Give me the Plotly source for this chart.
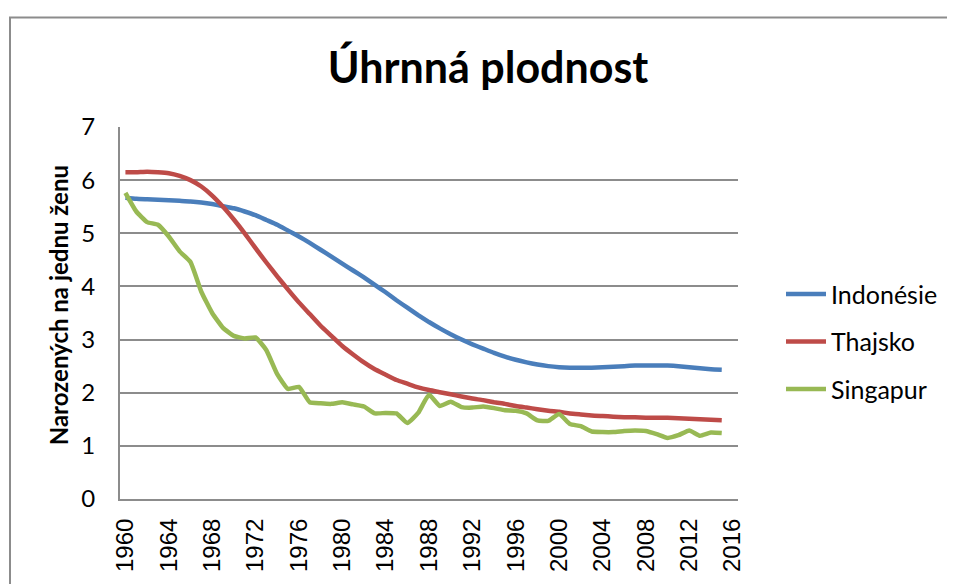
import plotly.graph_objects as go

years = list(range(1960, 2016))

indonesie = [5.67, 5.65, 5.64, 5.63, 5.62, 5.61, 5.60, 5.58, 5.55, 5.51,
             5.47, 5.41, 5.34, 5.25, 5.16, 5.05, 4.94, 4.82, 4.69, 4.56,
             4.43, 4.30, 4.17, 4.03, 3.89, 3.74, 3.60, 3.46, 3.33, 3.21,
             3.10, 3.00, 2.91, 2.83, 2.75, 2.68, 2.62, 2.57, 2.53, 2.50,
             2.48, 2.47, 2.47, 2.47, 2.48, 2.49, 2.50, 2.51, 2.51, 2.51,
             2.51, 2.50, 2.48, 2.46, 2.44, 2.43]

thajsko = [6.15, 6.15, 6.16, 6.15, 6.13, 6.08, 6.00, 5.88, 5.71, 5.50,
           5.26, 5.00, 4.72, 4.45, 4.19, 3.94, 3.70, 3.48, 3.26, 3.07,
           2.88, 2.72, 2.57, 2.44, 2.34, 2.24, 2.17, 2.10, 2.05, 2.01,
           1.97, 1.93, 1.89, 1.86, 1.82, 1.79, 1.75, 1.72, 1.69, 1.66,
           1.64, 1.61, 1.59, 1.57, 1.56, 1.55, 1.54, 1.54, 1.53, 1.53,
           1.53, 1.52, 1.51, 1.50, 1.49, 1.48]

singapur = [5.76, 5.41, 5.21, 5.16, 4.94, 4.66, 4.46, 3.90, 3.50, 3.22,
            3.07, 3.02, 3.04, 2.80, 2.35, 2.07, 2.11, 1.82, 1.80, 1.79,
            1.82, 1.78, 1.74, 1.61, 1.62, 1.61, 1.43, 1.62, 1.96, 1.75,
            1.83, 1.73, 1.72, 1.74, 1.71, 1.67, 1.66, 1.61, 1.48, 1.47,
            1.60, 1.41, 1.37, 1.27, 1.26, 1.26, 1.28, 1.29, 1.28, 1.22,
            1.15, 1.20, 1.29, 1.19, 1.25, 1.24]

series_names = ["Indonésie", "Thajsko", "Singapur"]
series_values = [indonesie, thajsko, singapur]
series_colors = ["#4A7EBB", "#BE4B48", "#98B954"]

x_ticks = list(range(1960, 2017, 4))
y_ticks = list(range(0, 8))

# page body has an 8px margin; work in page pixels and convert
OFF = 8
W, H = 955 - OFF, 584 - OFF
L, T = 120 - OFF, 127 - OFF
R = 955 - 738
B = 584 - 503 - OFF
pw, ph = W - L - R, H - T - B

def px_x(px):
    return (px - OFF - L) / pw

def px_y(py):
    return (H - B - (py - OFF)) / ph

fig = go.Figure()
for i, (name, vals, col) in enumerate(zip(series_names, series_values, series_colors)):
    fig.add_trace(go.Scatter(
        x=years, y=vals, name=name, mode="lines",
        line=dict(color=col, width=4.5, shape="spline", smoothing=0.4),
        legendgroup=f"g{i}",
    ))

grid_col = "#8C8C8C"
fig.update_layout(
    width=W, height=H,
    margin=dict(l=L, r=R, t=T, b=B, pad=0),
    paper_bgcolor="white", plot_bgcolor="white",
    title=dict(text="<b>Úhrnná plodnost</b>", font=dict(family="Lato", size=43, color="black"),
               xref="container", yref="container", x=(488 - OFF) / W, y=1 - (68 - OFF) / H,
               xanchor="center", yanchor="middle"),
    xaxis=dict(range=[1959.5, 2016.5], tickvals=x_ticks, ticktext=[str(t) for t in x_ticks],
               tickangle=-90, showgrid=False, showline=True, linecolor=grid_col, linewidth=2,
               ticks="", tickfont=dict(family="Liberation Sans", size=24, color="black"),
               ticklabelstandoff=8, zeroline=False),
    yaxis=dict(range=[0, 7], tickvals=y_ticks, showgrid=True, gridcolor=grid_col, gridwidth=2,
               showline=True, linecolor=grid_col, linewidth=2, ticks="", zeroline=False,
               tickfont=dict(family="Lato", size=24, color="black"), ticklabelstandoff=18),
    showlegend=True,
    legend=dict(x=px_x(781), y=px_y(276), xanchor="left", yanchor="top",
                font=dict(family="Lato", size=25, color="black"),
                tracegroupgap=12, itemwidth=40, bgcolor="rgba(0,0,0,0)"),
    annotations=[dict(text="<b>Narozených na jednu ženu</b>", textangle=-90,
                      xref="paper", yref="paper", x=px_x(58), y=px_y(311),
                      xanchor="center", yanchor="middle", showarrow=False,
                      font=dict(family="Lato", size=24, color="black"))],
    shapes=[dict(type="rect", xref="paper", yref="paper",
                 x0=px_x(10), x1=px_x(953), y0=px_y(700), y1=px_y(14),
                 line=dict(color="#8C8C8C", width=2), fillcolor="rgba(0,0,0,0)", layer="below")],
)

fig.write_html("out.html")
